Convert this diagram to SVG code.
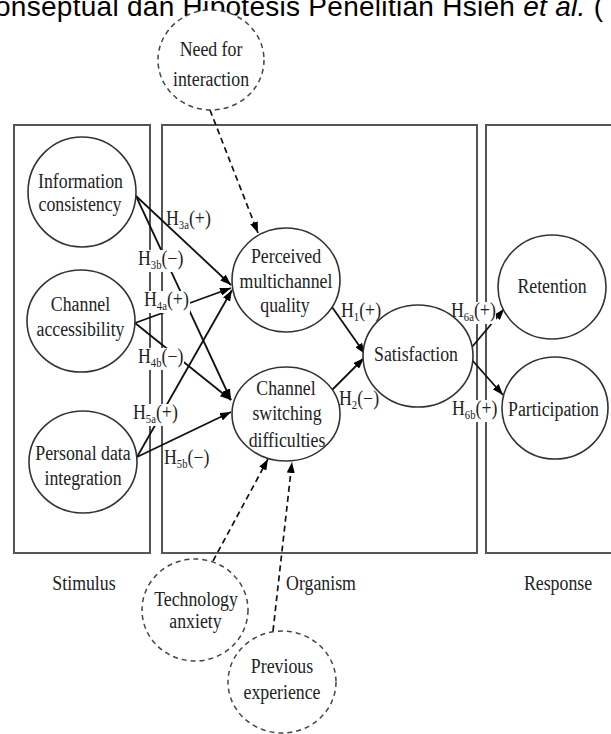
<svg xmlns="http://www.w3.org/2000/svg" width="611" height="734" viewBox="0 0 611 734">
<style>
.t{font-family:"Liberation Serif","Times New Roman",serif;font-size:20px;fill:#222;text-anchor:middle}
.h{font-family:"Liberation Serif","Times New Roman",serif;font-size:20px;fill:#222;text-anchor:start}
.sub{font-size:12px}
.title{font-family:"Liberation Sans",Arial,sans-serif;font-size:28px;fill:#000}
.box{fill:none;stroke:#555;stroke-width:2}
.node{fill:#fff;stroke:#333;stroke-width:1.6}
.dnode{fill:#fff;stroke:#444;stroke-width:1.5;stroke-dasharray:5 4}
.line{fill:none;stroke:#111;stroke-width:1.8;marker-end:url(#ah)}
.dline{fill:none;stroke:#111;stroke-width:1.7;stroke-dasharray:6 4;marker-end:url(#ah)}
.bg{fill:#fff;stroke:none}
</style>
<defs>
<marker id="ah" markerUnits="userSpaceOnUse" markerWidth="11" markerHeight="8" refX="11" refY="4" orient="auto">
<path d="M0,0 L11,4 L0,8 z" fill="#000"/>
</marker>
</defs>
<rect width="611" height="734" fill="#fff"/>
<text class="title" x="-5" y="16" textLength="608" lengthAdjust="spacing">onseptual dan Hipotesis Penelitian Hsieh <tspan font-style="italic">et al.</tspan> (</text>

<g id="boxes">
<rect class="box" x="14" y="125" width="136" height="428"/>
<rect class="box" x="162" y="125" width="315" height="428"/>
<rect class="box" x="486" y="125" width="140" height="428"/>
<text class="t" transform="translate(84 0) scale(0.89 1)" x="0" y="590">Stimulus</text>
<text class="t" transform="translate(321 0) scale(0.89 1)" x="0" y="590">Organism</text>
<text class="t" transform="translate(558 0) scale(0.89 1)" x="0" y="590">Response</text>
</g>

<g id="connectors">
<path class="line" d="M136,196 L231,285"/>
<path class="line" d="M136,196 L231,400"/>
<path class="line" d="M135,323 L231,288"/>
<path class="line" d="M135,323 L231,400"/>
<path class="line" d="M137,457 L232,290"/>
<path class="line" d="M137,457 L231,412"/>
<path class="dline" d="M210,110 L258,233"/>
<path class="dline" d="M213,561 L268,459"/>
<path class="dline" d="M273,631 L292,462"/>
<path class="line" d="M332,307 L365,354"/>
<path class="line" d="M332,390 L364,358"/>
<path class="line" d="M472,347 L504,309"/>
<path class="line" d="M472,360 L503,395"/>
</g>

<g id="labels">
<text class="h" transform="translate(166 0) scale(0.89 1)" x="0" y="225">H<tspan class="sub" dy="4">3a</tspan><tspan dy="-4">(+)</tspan></text>
<rect class="bg" x="137" y="250" width="47" height="22"/>
<text class="h" transform="translate(138 0) scale(0.89 1)" x="0" y="265">H<tspan class="sub" dy="4">3b</tspan><tspan dy="-4">(−)</tspan></text>
<rect class="bg" x="143" y="291" width="47" height="22"/>
<text class="h" transform="translate(144 0) scale(0.89 1)" x="0" y="306">H<tspan class="sub" dy="4">4a</tspan><tspan dy="-4">(+)</tspan></text>
<rect class="bg" x="137" y="348" width="47" height="22"/>
<text class="h" transform="translate(138 0) scale(0.89 1)" x="0" y="363">H<tspan class="sub" dy="4">4b</tspan><tspan dy="-4">(−)</tspan></text>
<rect class="bg" x="132" y="404" width="47" height="22"/>
<text class="h" transform="translate(133 0) scale(0.89 1)" x="0" y="419">H<tspan class="sub" dy="4">5a</tspan><tspan dy="-4">(+)</tspan></text>
<text class="h" transform="translate(164 0) scale(0.89 1)" x="0" y="464">H<tspan class="sub" dy="4">5b</tspan><tspan dy="-4">(−)</tspan></text>
<text class="h" transform="translate(341 0) scale(0.89 1)" x="0" y="317">H<tspan class="sub" dy="4">1</tspan><tspan dy="-4">(+)</tspan></text>
<text class="h" transform="translate(339 0) scale(0.89 1)" x="0" y="405">H<tspan class="sub" dy="4">2</tspan><tspan dy="-4">(−)</tspan></text>
<rect class="bg" x="450" y="302" width="46" height="22"/>
<text class="h" transform="translate(451 0) scale(0.89 1)" x="0" y="317">H<tspan class="sub" dy="4">6a</tspan><tspan dy="-4">(+)</tspan></text>
<rect class="bg" x="451" y="400" width="47" height="22"/>
<text class="h" transform="translate(452 0) scale(0.89 1)" x="0" y="415">H<tspan class="sub" dy="4">6b</tspan><tspan dy="-4">(+)</tspan></text>
</g>

<g id="need-for-interaction">
<ellipse class="dnode" cx="211" cy="60" rx="53" ry="50"/>
<text class="t" transform="translate(211 0) scale(0.89 1)" x="0" y="56">Need for</text>
<text class="t" transform="translate(211 0) scale(0.89 1)" x="0" y="86">interaction</text>
</g>
<g id="information-consistency">
<ellipse class="node" cx="82" cy="192" rx="54" ry="55"/>
<text class="t" transform="translate(80.5 0) scale(0.89 1)" x="0" y="188">Information</text>
<text class="t" transform="translate(80 0) scale(0.89 1)" x="0" y="211">consistency</text>
</g>
<g id="channel-accessibility">
<ellipse class="node" cx="81" cy="321" rx="54" ry="51"/>
<text class="t" transform="translate(80.5 0) scale(0.89 1)" x="0" y="311">Channel</text>
<text class="t" transform="translate(80.5 0) scale(0.89 1)" x="0" y="336">accessibility</text>
</g>
<g id="personal-data-integration">
<ellipse class="node" cx="83" cy="462" rx="54" ry="51"/>
<text class="t" transform="translate(83 0) scale(0.89 1)" x="0" y="460">Personal data</text>
<text class="t" transform="translate(83 0) scale(0.89 1)" x="0" y="485">integration</text>
</g>
<g id="perceived-multichannel-quality">
<ellipse class="node" cx="286" cy="280" rx="54" ry="52"/>
<text class="t" transform="translate(286 0) scale(0.89 1)" x="0" y="263">Perceived</text>
<text class="t" transform="translate(286 0) scale(0.89 1)" x="0" y="288">multichannel</text>
<text class="t" transform="translate(285 0) scale(0.89 1)" x="0" y="312">quality</text>
</g>
<g id="channel-switching-difficulties">
<ellipse class="node" cx="286" cy="414" rx="54" ry="47"/>
<text class="t" transform="translate(286 0) scale(0.89 1)" x="0" y="395">Channel</text>
<text class="t" transform="translate(287 0) scale(0.89 1)" x="0" y="420">switching</text>
<text class="t" transform="translate(287 0) scale(0.89 1)" x="0" y="447">difficulties</text>
</g>
<g id="satisfaction">
<ellipse class="node" cx="418" cy="356" rx="55" ry="51"/>
<text class="t" transform="translate(416 0) scale(0.89 1)" x="0" y="361">Satisfaction</text>
</g>
<g id="retention">
<ellipse class="node" cx="552" cy="287" rx="54" ry="52"/>
<text class="t" transform="translate(552 0) scale(0.89 1)" x="0" y="293">Retention</text>
</g>
<g id="participation">
<ellipse class="node" cx="555" cy="408" rx="53" ry="51"/>
<text class="t" transform="translate(553.5 0) scale(0.89 1)" x="0" y="416">Participation</text>
</g>
<g id="technology-anxiety">
<ellipse class="dnode" cx="195" cy="610" rx="53" ry="51"/>
<text class="t" transform="translate(196 0) scale(0.89 1)" x="0" y="606">Technology</text>
<text class="t" transform="translate(195.5 0) scale(0.89 1)" x="0" y="628">anxiety</text>
</g>
<g id="previous-experience">
<ellipse class="dnode" cx="282" cy="682" rx="54" ry="51"/>
<text class="t" transform="translate(282 0) scale(0.89 1)" x="0" y="673">Previous</text>
<text class="t" transform="translate(282 0) scale(0.89 1)" x="0" y="699">experience</text>
</g>
</svg>
